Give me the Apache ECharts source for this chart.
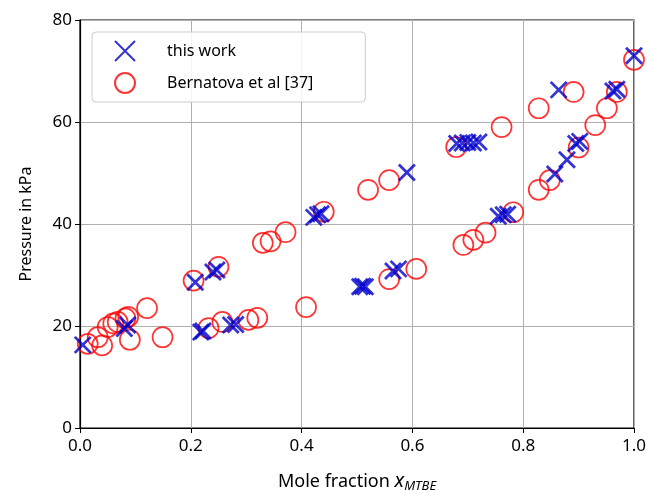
<!DOCTYPE html>
<html>
<head>
<meta charset="utf-8">
<script src="https://cdn.jsdelivr.net/npm/echarts@6/dist/echarts.min.js"></script>
<style>html,body{margin:0;padding:0;background:#fff;}#c{width:652px;height:491px;}</style>
</head>
<body>
<div id="c"></div>
<script>
// this work: [x, P]
const thisWorkX = [0.005, 0.08, 0.086, 0.218, 0.222, 0.272, 0.281, 0.208, 0.24, 0.247, 0.422, 0.429, 0.435, 0.505, 0.51, 0.515, 0.565, 0.575, 0.59, 0.68, 0.69, 0.70, 0.71, 0.72, 0.755, 0.764, 0.772, 0.857, 0.879, 0.895, 0.902, 0.864, 0.962, 0.969, 1.0];
const thisWorkP = [16.3, 19.5, 20.2, 18.8, 19.0, 20.2, 20.3, 28.6, 30.6, 31.0, 41.3, 41.8, 42.0, 27.7, 27.8, 27.7, 30.8, 31.2, 50.1, 55.8, 55.9, 56.0, 55.9, 56.1, 41.5, 41.8, 41.9, 49.8, 52.6, 55.8, 56.2, 66.3, 66.1, 66.4, 73.0];
// Bernatova et al [37]
const bernX = [0.014, 0.032, 0.04, 0.05, 0.06, 0.068, 0.082, 0.087, 0.09, 0.121, 0.149, 0.205, 0.232, 0.25, 0.257, 0.304, 0.32, 0.33, 0.344, 0.371, 0.408, 0.44, 0.52, 0.558, 0.558, 0.607, 0.679, 0.692, 0.71, 0.732, 0.761, 0.782, 0.828, 0.828, 0.848, 0.891, 0.9, 0.93, 0.951, 0.969, 1.0];
const bernP = [16.5, 17.8, 16.2, 19.8, 20.5, 20.8, 21.5, 21.8, 17.3, 23.5, 17.8, 28.9, 19.6, 31.6, 20.8, 21.2, 21.6, 36.3, 36.6, 38.4, 23.7, 42.4, 46.7, 48.6, 29.2, 31.2, 55.1, 35.9, 36.9, 38.3, 59.0, 42.3, 46.7, 62.7, 48.6, 65.9, 55.0, 59.4, 62.7, 65.9, 72.2];
const xTicks = [0.0, 0.2, 0.4, 0.6, 0.8, 1.0];
const yTicks = [0, 20, 40, 60, 80];

const thisWork = thisWorkX.map((x, i) => [x, thisWorkP[i]]);
const bern = bernX.map((x, i) => [x, bernP[i]]);

const FONT = 'Noto Sans';
const chart = echarts.init(document.getElementById('c'), null, {renderer: 'canvas'});
chart.setOption({
  animation: false,
  backgroundColor: '#fff',
  textStyle: {fontFamily: FONT},
  grid: {left: 80, right: 18, top: 20, bottom: 63, containLabel: false, outerBoundsMode: 'none',
         show: true, borderColor: '#000', borderWidth: 1.2},
  legend: {
    orient: 'vertical', left: 92, top: 32,
    padding: [8, 52, 8, 22],
    itemGap: 10, itemWidth: 22, itemHeight: 20,
    borderColor: '#cccccc', borderWidth: 1, borderRadius: 4,
    backgroundColor: 'rgba(255,255,255,0.85)',
    textStyle: {fontFamily: FONT, fontSize: 16, color: '#000', padding: [0, 0, 0, 26]},
    data: ['this work', 'Bernatova et al [37]']
  },
  xAxis: {
    type: 'value', min: 0, max: 1, interval: 0.2,
    name: '{n|Mole fraction }{x|x}{s|MTBE}',
    nameLocation: 'middle', nameGap: 42,
    nameTextStyle: {
      rich: {
        n: {fontFamily: FONT, fontSize: 18, color: '#000'},
        x: {fontFamily: FONT, fontSize: 20, fontStyle: 'italic', color: '#000'},
        s: {fontFamily: FONT, fontSize: 13, fontStyle: 'italic', color: '#000', padding: [10, 0, 0, 0]}
      }
    },
    axisLine: {lineStyle: {color: '#000', width: 1.2}},
    axisTick: {show: true, inside: false, length: 5, lineStyle: {color: '#000'}},
    axisLabel: {fontFamily: FONT, fontSize: 17, color: '#000', margin: 10, formatter: v => v.toFixed(1)},
    splitLine: {show: true, lineStyle: {color: '#b0b0b0', width: 1}}
  },
  yAxis: {
    type: 'value', min: 0, max: 80, interval: 20,
    name: 'Pressure in kPa', nameLocation: 'middle', nameGap: 46,
    nameTextStyle: {fontFamily: FONT, fontSize: 16, color: '#000'},
    axisLine: {show: true, lineStyle: {color: '#000', width: 1.2}},
    axisTick: {show: true, inside: false, length: 5, lineStyle: {color: '#000'}},
    axisLabel: {fontFamily: FONT, fontSize: 17, color: '#000', margin: 8},
    splitLine: {show: true, lineStyle: {color: '#b0b0b0', width: 1}}
  },
  series: [
    {
      name: 'Bernatova et al [37]', type: 'scatter', data: bern, z: 2,
      symbol: 'circle', symbolSize: 20,
      itemStyle: {color: 'rgba(0,0,0,0)', borderColor: '#ff0000', borderWidth: 1.7}
    },
    {
      name: 'this work', type: 'scatter', data: thisWork, z: 3,
      symbol: 'path://M0,0L10,10M10,0L0,10', symbolSize: 16,
      itemStyle: {color: 'rgba(0,0,0,0)', borderColor: '#0000cc', borderWidth: 2.8}
    }
  ]
});
</script>
</body>
</html>
